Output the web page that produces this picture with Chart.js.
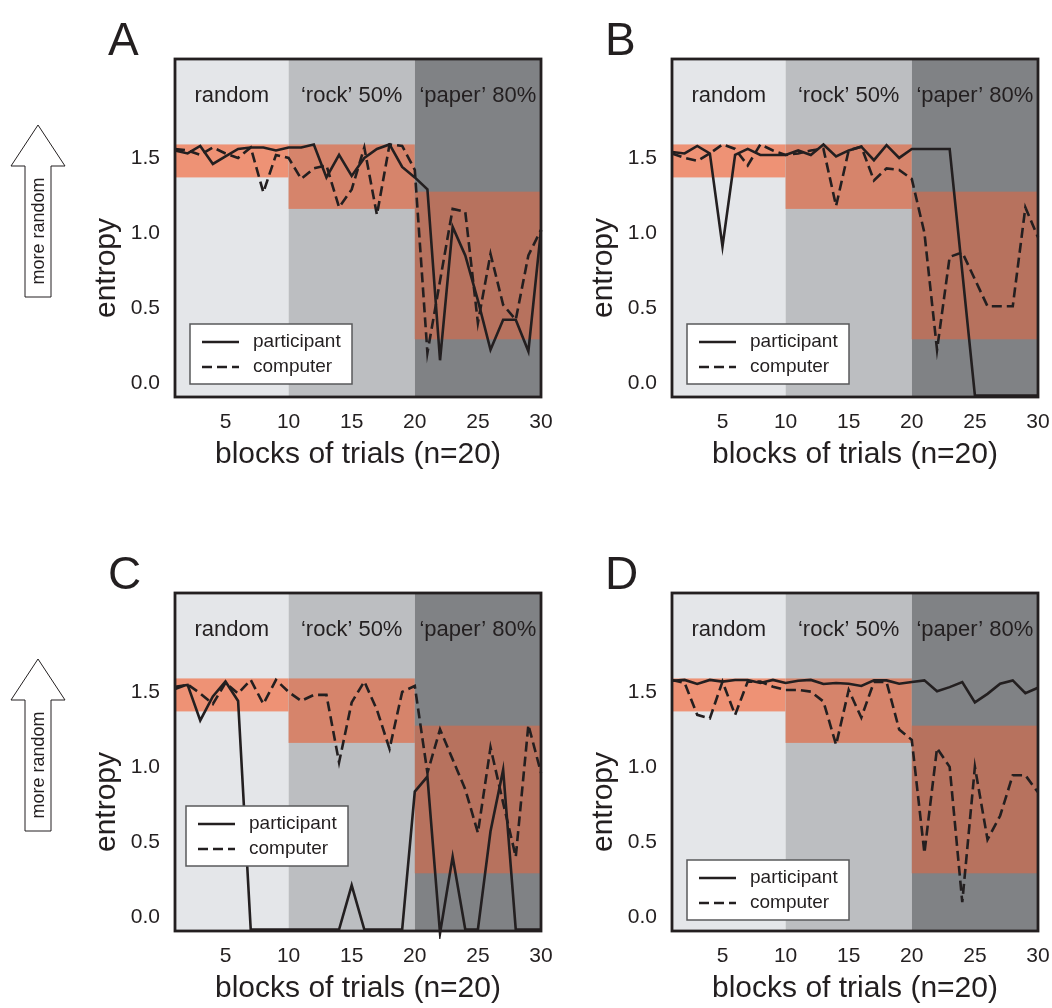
<!DOCTYPE html>
<html>
<head>
<meta charset="utf-8">
<script src="https://cdn.jsdelivr.net/npm/chart.js@4.4.1/dist/chart.umd.min.js"></script>
<style>
  body { margin: 0; background: #fff; }
  #wrap { position: relative; width: 1052px; height: 1008px; overflow: hidden; }
  .panel { position: absolute; }
</style>
</head>
<body>
<div id="wrap">
  <div class="panel" style="left:0;top:0"><canvas id="panelA" width="560" height="534"></canvas></div>
  <div class="panel" style="left:560px;top:0"><canvas id="panelB" width="492" height="534"></canvas></div>
  <div class="panel" style="left:0;top:534px"><canvas id="panelC" width="560" height="474"></canvas></div>
  <div class="panel" style="left:560px;top:534px"><canvas id="panelD" width="492" height="474"></canvas></div>
</div>
<script>
// Data
const blocks = [1, 2, 3, 4, 5, 6, 7, 8, 9, 10, 11, 12, 13, 14, 15, 16, 17, 18, 19, 20, 21, 22, 23, 24, 25, 26, 27, 28, 29, 30];
const xTicks = [5, 10, 15, 20, 25, 30];
const yTicks = [0.0, 0.5, 1.0, 1.5];
const phaseNames = ['random', '\u2018rock\u2019 50%', '\u2018paper\u2019 80%'];
const phaseEdges = [1, 10, 20, 30];
const bandLow = [1.37, 1.16, 0.29];
const bandHigh = [1.59, 1.59, 1.275];
const seriesNames = ['participant', 'computer'];

const participantA = [1.55, 1.53, 1.58, 1.46, 1.51, 1.56, 1.57, 1.57, 1.55, 1.57, 1.57, 1.59, 1.37, 1.52, 1.38, 1.50, 1.56, 1.59, 1.44, 1.37, 1.29, 0.15, 1.04, 0.85, 0.55, 0.22, 0.42, 0.42, 0.21, 1.02];
const computerA = [1.56, 1.55, 1.52, 1.57, 1.53, 1.50, 1.57, 1.27, 1.52, 1.50, 1.36, 1.43, 1.45, 1.17, 1.29, 1.57, 1.12, 1.59, 1.58, 1.42, 0.20, 0.68, 1.16, 1.14, 0.40, 0.86, 0.52, 0.42, 0.85, 1.02];

const participantB = [1.54, 1.53, 1.58, 1.53, 0.91, 1.52, 1.56, 1.52, 1.52, 1.52, 1.55, 1.52, 1.59, 1.51, 1.55, 1.575, 1.485, 1.585, 1.50, 1.56, 1.56, 1.56, 1.56, 0.74, -0.085, -0.085, -0.085, -0.085, -0.085, -0.085];
const computerB = [1.53, 1.50, 1.48, 1.53, 1.59, 1.56, 1.45, 1.59, 1.55, 1.52, 1.53, 1.55, 1.56, 1.18, 1.55, 1.575, 1.35, 1.43, 1.42, 1.36, 1.00, 0.22, 0.84, 0.87, 0.69, 0.51, 0.51, 0.51, 1.17, 0.97];

const participantC = [1.535, 1.547, 1.31, 1.47, 1.57, 1.44, -0.085, -0.085, -0.085, -0.085, -0.085, -0.085, -0.085, -0.085, 0.21, -0.085, -0.085, -0.085, -0.085, 0.835, 0.935, -0.11, 0.40, -0.085, -0.085, 0.57, 0.98, -0.085, -0.085, -0.085];
const computerC = [1.52, 1.55, 1.49, 1.42, 1.56, 1.49, 1.58, 1.42, 1.58, 1.50, 1.44, 1.48, 1.48, 1.03, 1.43, 1.57, 1.38, 1.12, 1.50, 1.54, 0.96, 1.25, 1.05, 0.85, 0.56, 1.13, 0.76, 0.40, 1.28, 0.96];

const participantD = [1.575, 1.58, 1.553, 1.58, 1.569, 1.58, 1.58, 1.56, 1.58, 1.56, 1.575, 1.58, 1.553, 1.56, 1.555, 1.54, 1.577, 1.577, 1.555, 1.566, 1.577, 1.505, 1.532, 1.566, 1.43, 1.487, 1.555, 1.577, 1.492, 1.528];
const computerD = [1.58, 1.56, 1.347, 1.324, 1.569, 1.347, 1.569, 1.569, 1.535, 1.513, 1.513, 1.502, 1.436, 1.147, 1.513, 1.329, 1.566, 1.566, 1.25, 1.18, 0.425, 1.125, 1.0, 0.097, 1.0, 0.515, 0.674, 0.944, 0.944, 0.83];

// Styles
const ink = '#231f20';
const family = '"Liberation Sans", Arial, Helvetica, sans-serif';
const phaseColors = ['#e4e6e9', '#bcbec1', '#808285'];
const bandColors = ['#ee9275', '#d6846b', '#b7725e'];

const panels = [
  { id: 'panelA', letter: 'A', p: participantA, c: computerA, yWidth: 175, padRight: 19, arrow: true, legendAt: [15, 265] },
  { id: 'panelB', letter: 'B', p: participantB, c: computerB, yWidth: 112, padRight: 14, arrow: false, legendAt: [15, 265] },
  { id: 'panelC', letter: 'C', p: participantC, c: computerC, yWidth: 175, padRight: 19, arrow: true, legendAt: [11, 213] },
  { id: 'panelD', letter: 'D', p: participantD, c: computerD, yWidth: 112, padRight: 14, arrow: false, legendAt: [15, 267] },
];

// Backgrounds, bands, frame, legend and text
const decor = {
  id: 'decor',
  beforeDatasetsDraw(chart, args, opts) {
    const { ctx, chartArea: a, scales: { x, y } } = chart;
    ctx.save();
    for (let i = 0; i < phaseNames.length; i++) {
      const x0 = x.getPixelForValue(phaseEdges[i]);
      const x1 = x.getPixelForValue(phaseEdges[i + 1]);
      ctx.fillStyle = phaseColors[i];
      ctx.fillRect(x0, a.top, x1 - x0, a.bottom - a.top);
      const yHi = y.getPixelForValue(bandHigh[i]);
      const yLo = y.getPixelForValue(bandLow[i]);
      ctx.fillStyle = bandColors[i];
      ctx.fillRect(x0, yHi, x1 - x0, yLo - yHi);
      ctx.fillStyle = ink;
      ctx.font = '22px ' + family;
      ctx.textAlign = 'center';
      ctx.textBaseline = 'alphabetic';
      ctx.fillText(phaseNames[i], (x0 + x1) / 2, a.top + 43);
    }
    ctx.restore();
  },
  afterDatasetsDraw(chart, args, opts) {
    const { ctx, chartArea: a } = chart;
    ctx.save();
    // frame
    ctx.strokeStyle = ink;
    ctx.lineWidth = 2.8;
    ctx.strokeRect(a.left, a.top, a.right - a.left, a.bottom - a.top);

    // legend box
    const lx = a.left + opts.legendAt[0];
    const ly = a.top + opts.legendAt[1];
    ctx.fillStyle = '#fff';
    ctx.fillRect(lx, ly, 162, 60);
    ctx.strokeStyle = '#58595b';
    ctx.lineWidth = 1.5;
    ctx.strokeRect(lx, ly, 162, 60);
    chart.data.datasets.forEach((ds, i) => {
      const ry = ly + 18 + i * 25;
      ctx.strokeStyle = ds.borderColor;
      ctx.lineWidth = ds.borderWidth;
      ctx.setLineDash(ds.borderDash || []);
      ctx.beginPath();
      ctx.moveTo(lx + 12, ry);
      ctx.lineTo(lx + 49, ry);
      ctx.stroke();
      ctx.setLineDash([]);
      ctx.fillStyle = ink;
      ctx.font = '19px ' + family;
      ctx.textAlign = 'left';
      ctx.textBaseline = 'middle';
      ctx.fillText(ds.label, lx + 63, ry);
    });
    ctx.restore();
  },
  afterDraw(chart, args, opts) {
    const { ctx, chartArea: a } = chart;
    ctx.save();
    ctx.fillStyle = ink;

    // panel letter
    ctx.font = '46px ' + family;
    ctx.textAlign = 'left';
    ctx.textBaseline = 'alphabetic';
    ctx.fillText(opts.letter, a.left - 67, a.top - 4);

    // x title
    ctx.font = '30px ' + family;
    ctx.textAlign = 'center';
    ctx.textBaseline = 'middle';
    ctx.fillText('blocks of trials (n=20)', (a.left + a.right) / 2, a.bottom + 58);

    // y title
    ctx.save();
    ctx.translate(a.left - 68, a.top + 209);
    ctx.rotate(-Math.PI / 2);
    ctx.fillText('entropy', 0, 0);
    ctx.restore();

    // "more random" arrow
    if (opts.arrow) {
      const cx = 38, tipY = a.top + 66, headY = a.top + 107, baseY = a.top + 238;
      ctx.beginPath();
      ctx.moveTo(cx, tipY);
      ctx.lineTo(cx + 27, headY);
      ctx.lineTo(cx + 13, headY);
      ctx.lineTo(cx + 13, baseY);
      ctx.lineTo(cx - 13, baseY);
      ctx.lineTo(cx - 13, headY);
      ctx.lineTo(cx - 27, headY);
      ctx.closePath();
      ctx.fillStyle = '#fff';
      ctx.fill();
      ctx.strokeStyle = ink;
      ctx.lineWidth = 1;
      ctx.stroke();
      ctx.save();
      ctx.translate(cx, a.top + 172);
      ctx.rotate(-Math.PI / 2);
      ctx.fillStyle = ink;
      ctx.font = '18px ' + family;
      ctx.textAlign = 'center';
      ctx.textBaseline = 'middle';
      ctx.fillText('more random', 0, 1);
      ctx.restore();
    }
    ctx.restore();
  },
};

// Create the four panels
panels.forEach((panel) => {
  const canvas = document.getElementById(panel.id);
  const toPoints = (vals) => blocks.map((b, i) => ({ x: b, y: vals[i] }));

  new Chart(canvas, {
    type: 'line',
    data: {
      datasets: [
        {
          label: seriesNames[0],
          data: toPoints(panel.p),
          borderColor: ink,
          borderWidth: 2.6,
          pointRadius: 0,
          tension: 0,
          clip: 8,
        },
        {
          label: seriesNames[1],
          data: toPoints(panel.c),
          borderColor: ink,
          borderWidth: 2.6,
          borderDash: [10, 5],
          pointRadius: 0,
          tension: 0,
          clip: 8,
        },
      ],
    },
    options: {
      responsive: false,
      animation: false,
      layout: {
        padding: { top: 59, right: panel.padRight, bottom: canvas.height - 397 - 50, left: 0 },
      },
      plugins: {
        legend: { display: false },
        tooltip: { enabled: false },
        decor: { letter: panel.letter, arrow: panel.arrow, legendAt: panel.legendAt },
      },
      scales: {
        x: {
          type: 'linear',
          min: blocks[0],
          max: blocks[blocks.length - 1],
          grid: { display: false },
          border: { display: false },
          afterBuildTicks: (scale) => { scale.ticks = xTicks.map((v) => ({ value: v })); },
          afterFit: (scale) => {
            scale.height = 50;
            scale.paddingLeft = 0;
            scale.paddingRight = 0;
          },
          ticks: {
            color: ink,
            font: { family: family, size: 21 },
            padding: 5,
            maxRotation: 0,
            callback: (v) => String(v),
          },
        },
        y: {
          type: 'linear',
          min: -0.095,
          max: 2.16,
          grid: { display: false },
          border: { display: false },
          afterBuildTicks: (scale) => { scale.ticks = yTicks.map((v) => ({ value: v })); },
          afterFit: (scale) => {
            scale.width = panel.yWidth;
            scale.paddingTop = 0;
            scale.paddingBottom = 0;
          },
          ticks: {
            color: ink,
            font: { family: family, size: 21 },
            padding: 7,
            callback: (v) => Number(v).toFixed(1),
          },
        },
      },
    },
    plugins: [decor],
  });
});
</script>
</body>
</html>
